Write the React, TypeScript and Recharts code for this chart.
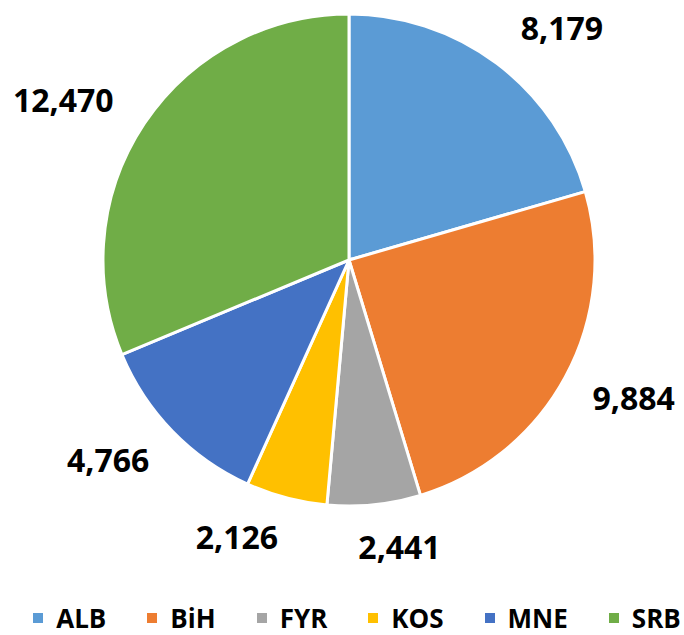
import { PieChart, Pie, Cell, Legend } from "recharts";

const countries = ["ALB", "BiH", "FYR", "KOS", "MNE", "SRB"];
const values = [8179, 9884, 2441, 2126, 4766, 12470];
const colors = ["#5B9BD5", "#ED7D31", "#A5A5A5", "#FFC000", "#4472C4", "#70AD47"];

// clockwise nudge (degrees) of each value label, as Excel spreads them apart
const labelNudge = [6, -2, -4, 7, 4, -5];

const data = countries.map((name, i) => ({ name, value: values[i] }));

const FONT = "'Open Sans', sans-serif";
const RAD = Math.PI / 180;

const renderLabel = (props: any) => {
  const { cx, cy, midAngle, outerRadius, value, index } = props;
  const text = value.toLocaleString("en-US");
  const fs = 32;
  const digits = text.replace(/,/g, "").length;
  const commas = text.length - digits;
  const w = (digits * 0.572 + commas * 0.27) * fs;
  const h = 24;
  const ang = midAngle - labelNudge[index];
  const dx = Math.cos(-ang * RAD);
  const dy = Math.sin(-ang * RAD);
  const dist = outerRadius + 30 + Math.abs(dx) * w / 2 + Math.abs(dy) * h / 2;
  return (
    <text
      x={cx + dx * dist}
      y={cy + dy * dist - 4}
      textAnchor="middle"
      dominantBaseline="central"
      fill="#000"
      fontFamily={FONT}
      fontWeight={700}
      fontSize={fs}
    >
      {text}
    </text>
  );
};

const renderLegend = () => (
  <div
    style={{
      display: "flex",
      justifyContent: "center",
      gap: 41,
      fontFamily: FONT,
      fontWeight: 700,
      fontSize: 26,
      lineHeight: "34px",
      color: "#000",
    }}
  >
    {countries.map((c, i) => (
      <div key={c} style={{ display: "flex", alignItems: "center" }}>
        <span
          style={{
            display: "inline-block",
            width: 10,
            height: 10,
            background: colors[i],
            marginRight: 13,
          }}
        />
        <span>{c}</span>
      </div>
    ))}
  </div>
);

export default function App() {
  return (
    <div style={{ position: "absolute", left: 0, top: 0, width: 684, height: 635, background: "#fff" }}>
      <PieChart width={684} height={635} margin={{ top: 0, right: 0, bottom: 0, left: 0 }}>
        <Pie
          data={data}
          dataKey="value"
          nameKey="name"
          cx={349}
          cy={260}
          outerRadius={246}
          startAngle={90}
          endAngle={-270}
          stroke="#fff"
          strokeWidth={3}
          label={renderLabel}
          labelLine={false}
          isAnimationActive={false}
        >
          {data.map((d, i) => (
            <Cell key={d.name} fill={colors[i]} />
          ))}
        </Pie>
        <Legend content={renderLegend} wrapperStyle={{ top: 601, left: 30, width: 654, height: 34 }} />
      </PieChart>
    </div>
  );
}
